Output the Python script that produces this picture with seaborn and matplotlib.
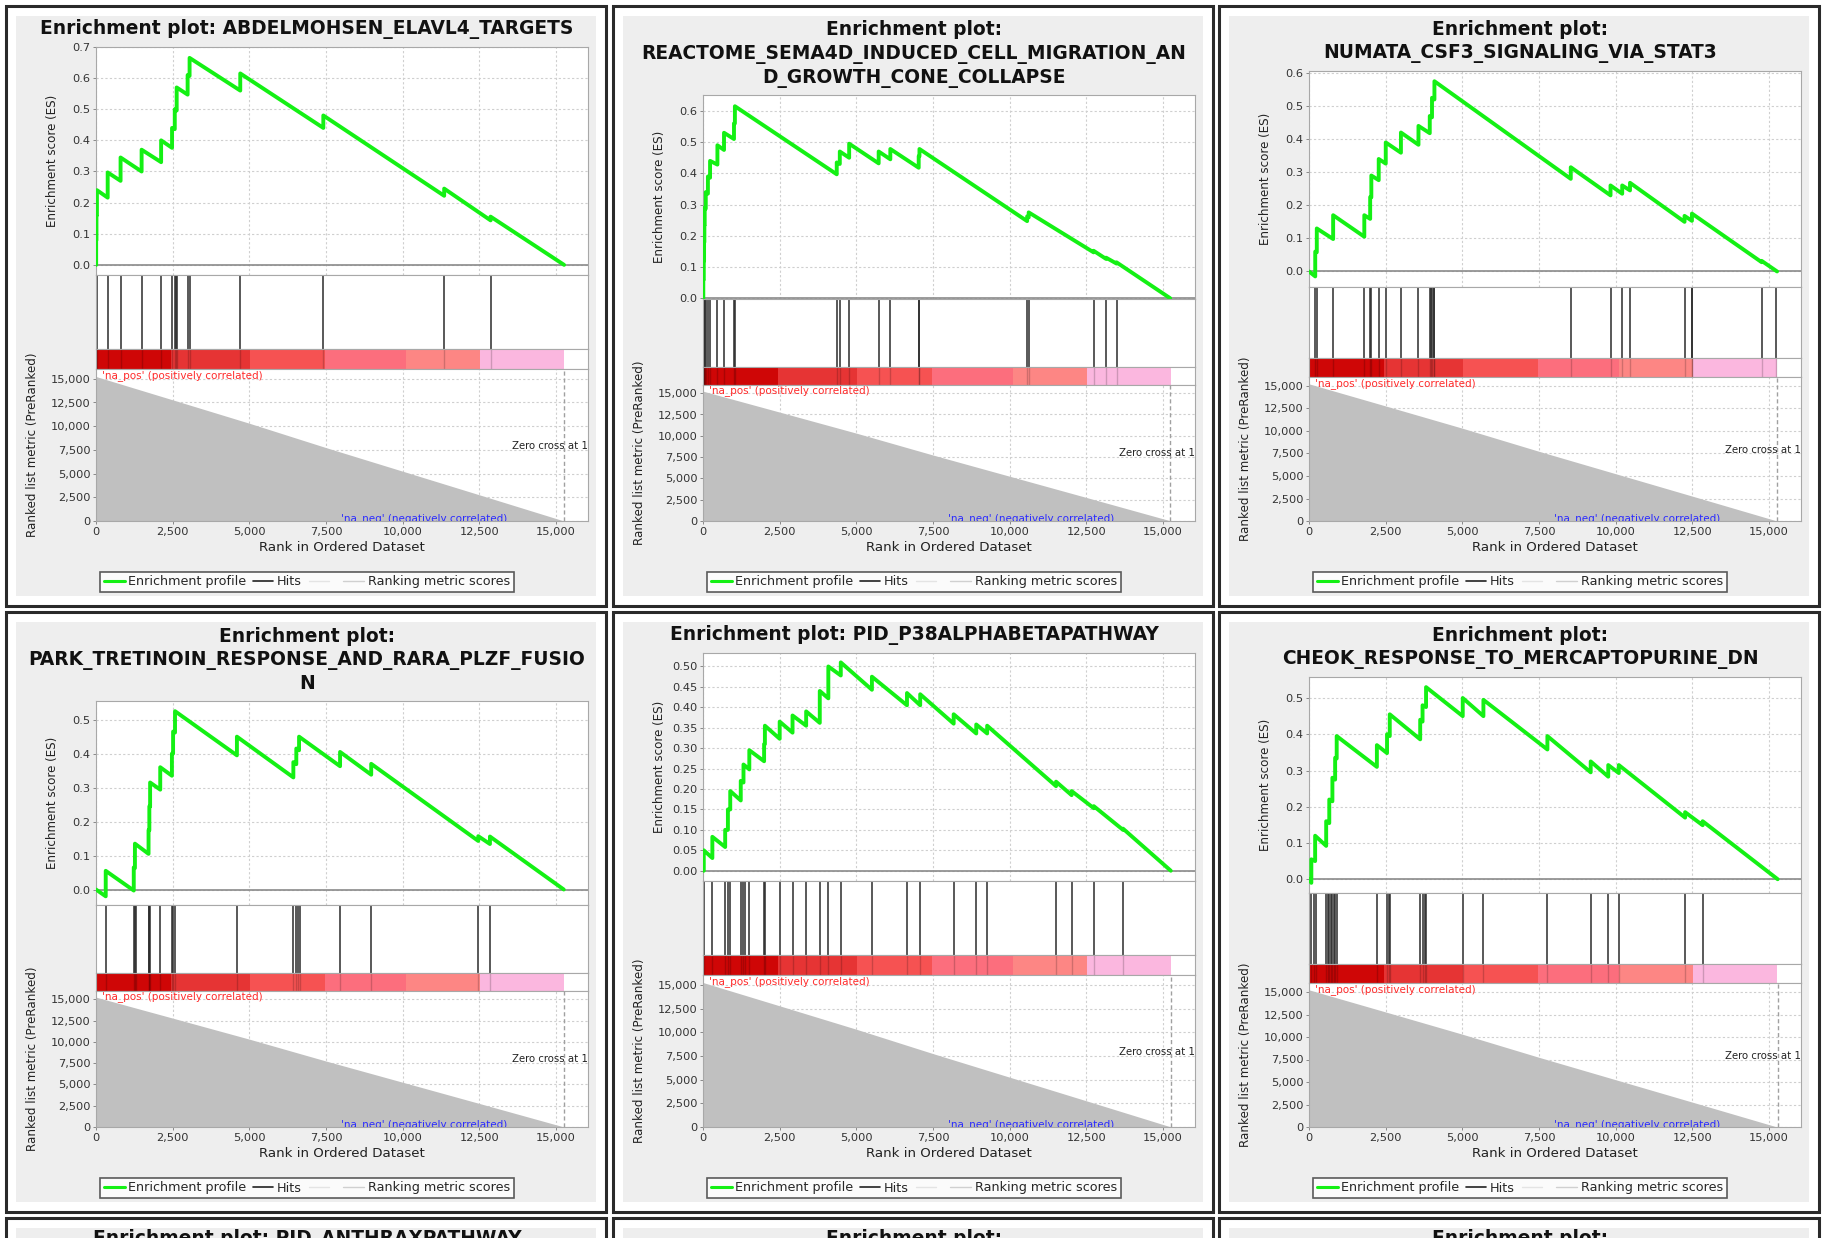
import numpy as np
import pandas as pd
import matplotlib
matplotlib.use("Agg")
import matplotlib.pyplot as plt
from matplotlib.lines import Line2D
from matplotlib.patches import Rectangle
from matplotlib.ticker import FuncFormatter, FixedLocator
import seaborn as sns

# ---------------- data ----------------
titles = [
    "Enrichment plot: ABDELMOHSEN_ELAVL4_TARGETS",
    "Enrichment plot:\nREACTOME_SEMA4D_INDUCED_CELL_MIGRATION_AN\nD_GROWTH_CONE_COLLAPSE",
    "Enrichment plot:\nNUMATA_CSF3_SIGNALING_VIA_STAT3",
    "Enrichment plot:\nPARK_TRETINOIN_RESPONSE_AND_RARA_PLZF_FUSIO\nN",
    "Enrichment plot: PID_P38ALPHABETAPATHWAY",
    "Enrichment plot:\nCHEOK_RESPONSE_TO_MERCAPTOPURINE_DN",
]
bottom_titles = ["Enrichment plot: PID_ANTHRAXPATHWAY", "Enrichment plot:", "Enrichment plot:"]

p1_hits = [5, 15, 30, 381, 801, 1487, 2123, 2479, 2568, 2606, 2644, 2987, 3051, 4703, 7411, 11351, 12864]
p1_es_rank = [5, 15, 30, 381, 801, 1487, 2123, 2479, 2568, 2630, 2987, 3051, 4703, 7411, 11351, 12864]
p1_es_lo = [0.0, 0.08, 0.16, 0.216, 0.27, 0.30, 0.33, 0.376, 0.436, 0.496, 0.547, 0.607, 0.56, 0.44, 0.222, 0.143]
p1_es_hi = [0.08, 0.16, 0.24, 0.297, 0.345, 0.37, 0.40, 0.44, 0.50, 0.57, 0.61, 0.665, 0.615, 0.48, 0.245, 0.155]
p1_end = 15260

p2_hits = [10, 25, 35, 45, 55, 90, 160, 230, 470, 685, 1010, 1040, 4360, 4460, 4765, 5727, 6107, 7032, 7057,
           10567, 10618, 12734, 13140, 13482]
p2_es_rank = [10, 25, 35, 45, 55, 90, 160, 230, 470, 685, 1010, 1040, 4360, 4460, 4765, 5727, 6107, 7032, 7057,
              10567, 10618, 12734, 13140, 13482]
p2_es_lo = [0.0, 0.06, 0.12, 0.18, 0.235, 0.287, 0.335, 0.386, 0.428, 0.475, 0.51, 0.56, 0.397, 0.43, 0.45,
            0.432, 0.445, 0.418, 0.455, 0.247, 0.259, 0.147, 0.126, 0.111]
p2_es_hi = [0.06, 0.12, 0.18, 0.235, 0.29, 0.34, 0.39, 0.44, 0.49, 0.53, 0.56, 0.615, 0.435, 0.47, 0.495,
            0.47, 0.478, 0.455, 0.478, 0.262, 0.275, 0.152, 0.13, 0.115]
p2_end = 15230

p3_hits = [203, 254, 787, 1803, 1994, 2032, 2273, 2502, 2997, 3569, 3937, 3988, 4026, 4064, 4089, 8534, 9830,
           10211, 10465, 12243, 12471, 12497, 14757, 15227]
p3_es_rank = [203, 254, 787, 1803, 1994, 2032, 2273, 2502, 2997, 3569, 3937, 4010, 4089, 8534, 9830, 10211,
              10465, 12243, 12484, 14757]
p3_es_lo = [-0.015, 0.058, 0.098, 0.105, 0.159, 0.224, 0.276, 0.326, 0.359, 0.383, 0.418, 0.466, 0.52, 0.28,
            0.23, 0.235, 0.245, 0.15, 0.153, 0.028]
p3_es_hi = [0.06, 0.13, 0.17, 0.17, 0.225, 0.29, 0.34, 0.39, 0.42, 0.44, 0.47, 0.525, 0.575, 0.315, 0.26,
            0.26, 0.268, 0.168, 0.175, 0.032]
p3_end = 15260

p4_hits = [317, 1231, 1269, 1307, 1713, 1739, 1764, 2094, 2475, 2513, 2576, 4594, 6434, 6510, 6599, 6637,
           7957, 8972, 12462, 12843]
p4_es_rank = [317, 1231, 1269, 1713, 1739, 1764, 2094, 2475, 2513, 2576, 4594, 6434, 6530, 6620, 7957, 8972,
              12462, 12843]
p4_es_lo = [-0.02, -0.003, 0.063, 0.105, 0.174, 0.244, 0.294, 0.335, 0.40, 0.462, 0.395, 0.33, 0.369, 0.41,
            0.363, 0.338, 0.143, 0.134]
p4_es_hi = [0.055, 0.065, 0.135, 0.175, 0.245, 0.315, 0.36, 0.40, 0.465, 0.525, 0.45, 0.375, 0.415, 0.45,
            0.405, 0.37, 0.157, 0.156]
p4_end = 15250

p5_hits = [25, 305, 723, 812, 888, 1231, 1294, 1358, 1510, 1992, 2018, 2500, 2919, 3363, 3807, 4086, 4492,
           5507, 6650, 7081, 8172, 8908, 9264, 11510, 12017, 12741, 13693]
p5_es_rank = [25, 305, 723, 812, 888, 1231, 1320, 1510, 1992, 2018, 2500, 2919, 3363, 3807, 4086, 4492, 5507,
              6650, 7081, 8172, 8908, 9264, 11510, 12017, 12741, 13693]
p5_es_lo = [0.0, 0.031, 0.058, 0.10, 0.15, 0.172, 0.216, 0.248, 0.268, 0.31, 0.323, 0.338, 0.355, 0.362,
            0.422, 0.478, 0.443, 0.405, 0.405, 0.36, 0.336, 0.336, 0.207, 0.185, 0.153, 0.10]
p5_es_hi = [0.05, 0.083, 0.10, 0.15, 0.195, 0.22, 0.26, 0.295, 0.31, 0.355, 0.365, 0.38, 0.39, 0.44, 0.50,
            0.51, 0.475, 0.435, 0.432, 0.383, 0.358, 0.355, 0.218, 0.195, 0.158, 0.103]
p5_end = 15250

p6_hits = [76, 153, 229, 560, 611, 661, 712, 763, 814, 852, 903, 2213, 2544, 2595, 2633, 3625, 3702, 3778,
           3816, 5012, 5686, 7772, 9184, 9756, 10100, 12262, 12834]
p6_es_rank = [76, 200, 560, 661, 763, 852, 903, 2213, 2544, 2633, 3625, 3702, 3816, 5012, 5686, 7772, 9184,
              9756, 10100, 12262, 12834]
p6_es_lo = [-0.01, 0.05, 0.092, 0.155, 0.215, 0.275, 0.333, 0.31, 0.348, 0.395, 0.386, 0.435, 0.475, 0.45,
            0.45, 0.358, 0.295, 0.283, 0.293, 0.17, 0.149]
p6_es_hi = [0.055, 0.12, 0.16, 0.22, 0.28, 0.335, 0.395, 0.37, 0.40, 0.455, 0.44, 0.48, 0.53, 0.50, 0.495,
            0.395, 0.325, 0.315, 0.315, 0.185, 0.16]
p6_end = 15280

es_ticks = [
    [0.0, 0.1, 0.2, 0.3, 0.4, 0.5, 0.6, 0.7],
    [0.0, 0.1, 0.2, 0.3, 0.4, 0.5, 0.6],
    [0.0, 0.1, 0.2, 0.3, 0.4, 0.5, 0.6],
    [0.0, 0.1, 0.2, 0.3, 0.4, 0.5],
    [0.0, 0.05, 0.10, 0.15, 0.20, 0.25, 0.30, 0.35, 0.40, 0.45, 0.50],
    [0.0, 0.1, 0.2, 0.3, 0.4, 0.5],
]
es_tick_fmt = ["{:.1f}", "{:.1f}", "{:.1f}", "{:.1f}", "{:.2f}", "{:.1f}"]
es_ylims = [(-0.031, 0.70), (-0.004, 0.651), (-0.047, 0.606), (-0.047, 0.555), (-0.024, 0.533), (-0.038, 0.558)]

rank_ticks = [0, 2500, 5000, 7500, 10000, 12500, 15000]
metric_ticks = [0, 2500, 5000, 7500, 10000, 12500, 15000]
metric_rank = [0, 2500, 5000, 7500, 10000, 12500, 15000, 15260]
metric_val = [15240, 12780, 10310, 7740, 5250, 2760, 260, 0]
bar_edges = [0, 2450, 5020, 7450, 10100, 12520, 15260]
bar_colors = ["#cf0606", "#e63434", "#f65252", "#fc6e7d", "#fd8684", "#fbb7df"]

panels = [
    (p1_hits, p1_es_rank, p1_es_lo, p1_es_hi, p1_end),
    (p2_hits, p2_es_rank, p2_es_lo, p2_es_hi, p2_end),
    (p3_hits, p3_es_rank, p3_es_lo, p3_es_hi, p3_end),
    (p4_hits, p4_es_rank, p4_es_lo, p4_es_hi, p4_end),
    (p5_hits, p5_es_rank, p5_es_lo, p5_es_hi, p5_end),
    (p6_hits, p6_es_rank, p6_es_lo, p6_es_hi, p6_end),
]

# ---------------- figure ----------------
sns.set_theme(style="white")
plt.rcParams["font.family"] = ["DejaVu Sans"]

W, H = 1823, 1238
fig = plt.figure(figsize=(W / 100, H / 100), dpi=100)
fig.patch.set_facecolor("white")

XMAX = 16040
col_x = [6, 613, 1219]
row_y = [6, 612, 1218]
PW = PH = 600
GREEN = "#14f014"
SPINE = "#a8a8a8"
GRID = "#cfcfcf"
TITLE_FS = 13.4


def fr(x, y, w, h):
    return [x / W, 1 - (y + h) / H, w / W, h / H]


def frame(x, y):
    fig.add_artist(Rectangle((x / W, 1 - (y + PH) / H), PW / W, PH / H, transform=fig.transFigure,
                             fill=False, ec="#2a2a2a", lw=2.2, zorder=-1))
    fig.add_artist(Rectangle(((x + 10) / W, 1 - (y + PH - 10) / H), (PW - 20) / W, (PH - 20) / H,
                             transform=fig.transFigure, fc="#eeeeee", ec="none", zorder=-2))


def style_spines(ax):
    for s in ax.spines.values():
        s.set_color(SPINE)
        s.set_linewidth(0.8)


comma = FuncFormatter(lambda v, p: f"{int(v):,}")

for i, (hits, er, elo, ehi, end) in enumerate(panels):
    x0 = col_x[i % 3]
    y0 = row_y[i // 3]
    frame(x0, y0)
    title = titles[i]
    nlines = title.count("\n") + 1
    fig.text((x0 + 301) / W, 1 - (y0 + 23 + 12.5 * (nlines - 1)) / H, title, ha="center", va="center",
             fontsize=TITLE_FS, fontweight="bold", color="#111111", linespacing=1.28)

    top = y0 + 41 + 24 * (nlines - 1)
    bot = y0 + 515
    tot = bot - top
    h_es = 0.48 * tot
    h_hit = 0.158 * tot
    h_cb = 0.042 * tot
    h_m = tot - h_es - h_hit - h_cb
    left = x0 + 90
    width = 492

    # ---- ES axes ----
    ax = fig.add_axes(fr(left, top, width, h_es))
    ax.set_facecolor("white")
    xs = [0]
    ys = [0.0]
    for r, lo, hi in zip(er, elo, ehi):
        xs += [r, r]
        ys += [lo, hi]
    xs.append(end)
    ys.append(0.0)
    df = pd.DataFrame({"rank": xs, "es": ys})
    ax.axhline(0, color="#8a8a8a", lw=1.2, zorder=1)
    sns.lineplot(data=df, x="rank", y="es", ax=ax, color=GREEN, linewidth=2.8, sort=False,
                 estimator=None, legend=False, zorder=3)
    ax.set_xlim(0, XMAX)
    ax.set_ylim(*es_ylims[i])
    ax.xaxis.set_major_locator(FixedLocator(rank_ticks))
    ax.yaxis.set_major_locator(FixedLocator(es_ticks[i]))
    fmt = es_tick_fmt[i]
    ax.yaxis.set_major_formatter(FuncFormatter(lambda v, p, fmt=fmt: fmt.format(v)))
    ax.set_xticklabels([])
    ax.tick_params(axis="x", length=0)
    ax.tick_params(axis="y", length=2, width=0.7, color="#888888", labelsize=8.2, labelcolor="#333333", pad=2,
                   left=True)
    ax.grid(True, color=GRID, linestyle=(0, (2, 2)), linewidth=0.8)
    ax.set_xlabel("")
    ax.set_ylabel("Enrichment score (ES)", fontsize=8.6, color="#222222")
    ax.yaxis.set_label_coords(-37 / width, 0.5)
    style_spines(ax)

    # ---- hits axes ----
    axh = fig.add_axes(fr(left, top + h_es, width, h_hit))
    axh.set_facecolor("white")
    axh.vlines(hits, 0, 1, colors="#2b2b2b", lw=1.1)
    axh.set_xlim(0, XMAX)
    axh.set_ylim(0, 1)
    axh.set_xticks([])
    axh.set_yticks([])
    style_spines(axh)

    # ---- colour bar axes ----
    axc = fig.add_axes(fr(left, top + h_es + h_hit, width, h_cb))
    axc.set_facecolor("white")
    for a, b, c in zip(bar_edges[:-1], bar_edges[1:], bar_colors):
        axc.axvspan(a, b, color=c, lw=0)
    axc.vlines(hits, 0, 1, colors="#000000", lw=1.0, alpha=0.18)
    axc.set_xlim(0, XMAX)
    axc.set_ylim(0, 1)
    axc.set_xticks([])
    axc.set_yticks([])
    style_spines(axc)

    # ---- ranked metric axes ----
    axm = fig.add_axes(fr(left, top + h_es + h_hit + h_cb, width, h_m))
    axm.set_facecolor("white")
    axm.fill_between(metric_rank, metric_val, 0, color="#c0c0c0", lw=0, zorder=2)
    axm.axvline(end, color="#a0a0a0", lw=1.0, ls=(0, (3, 2)), zorder=3)
    axm.set_xlim(0, XMAX)
    axm.set_ylim(0, 16000)
    axm.xaxis.set_major_locator(FixedLocator(rank_ticks))
    axm.yaxis.set_major_locator(FixedLocator(metric_ticks))
    axm.xaxis.set_major_formatter(comma)
    axm.yaxis.set_major_formatter(comma)
    axm.tick_params(axis="both", length=2, width=0.7, color="#888888", labelsize=8.2, labelcolor="#333333",
                    pad=2, left=True, bottom=True)
    axm.grid(True, color=GRID, linestyle=(0, (2, 2)), linewidth=0.8, zorder=1)
    axm.set_axisbelow(True)
    axm.set_xlabel("Rank in Ordered Dataset", fontsize=9.6, color="#222222", labelpad=3)
    axm.set_ylabel("Ranked list metric (PreRanked)", fontsize=8.6, color="#222222")
    axm.yaxis.set_label_coords(-57 / width, 0.5)
    style_spines(axm)
    axm.text(0.012, 0.995, "'na_pos' (positively correlated)", transform=axm.transAxes, ha="left", va="top",
             fontsize=7.5, color="#ff2a2a", zorder=4)
    axm.text(8000, 300, "'na_neg' (negatively correlated)", ha="left", va="center", fontsize=7.5,
             color="#2a2aff", zorder=4, clip_on=True)
    axm.text(13560, 7930, "Zero cross at 15261", ha="left", va="center", fontsize=7.3, color="#222222",
             zorder=4, clip_on=True)

    handles = [Line2D([], [], color=GREEN, lw=2.2), Line2D([], [], color="#222222", lw=1.2),
               Line2D([], [], color="#e4e4e4", lw=1.0), Line2D([], [], color="#d0d0d0", lw=1.0)]
    labels = ["Enrichment profile", "Hits", " ", "Ranking metric scores"]
    leg = axm.legend(handles, labels, loc="center", bbox_to_anchor=((x0 + 301) / W, 1 - (y0 + 576) / H),
                     bbox_transform=fig.transFigure, ncol=4, fontsize=9.2, frameon=True, fancybox=False,
                     edgecolor="#333333", handlelength=1.6, handletextpad=0.3, columnspacing=0.5,
                     borderpad=0.3)
    leg.get_frame().set_linewidth(1.2)
    leg.get_frame().set_facecolor("white")

# bottom row (cut off by the image edge, as in the source picture)
for j in range(3):
    frame(col_x[j], row_y[2])
    fig.text((col_x[j] + 301) / W, 1 - (row_y[2] + 21) / H, bottom_titles[j], ha="center", va="center",
             fontsize=TITLE_FS, fontweight="bold", color="#111111")

fig.savefig("out.png", dpi=100)
